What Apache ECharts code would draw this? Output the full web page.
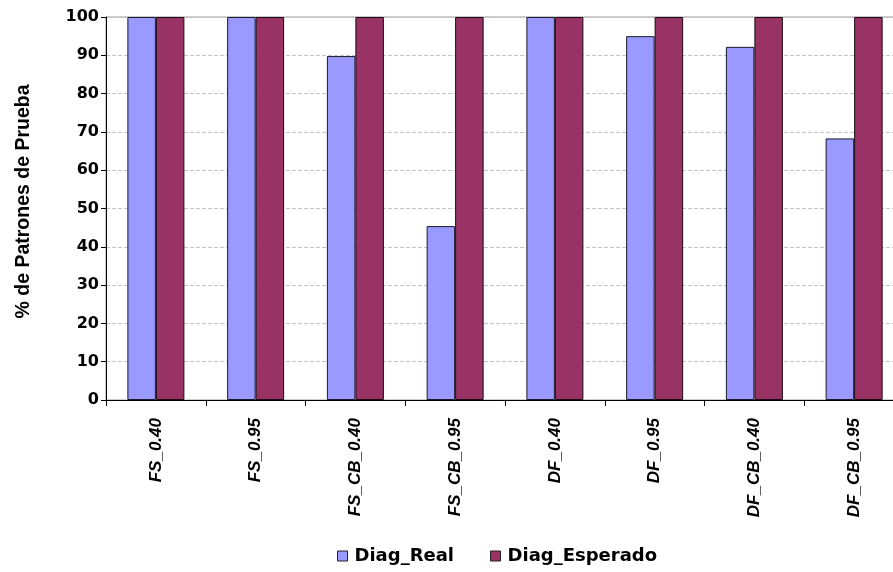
<!DOCTYPE html>
<html>
<head>
<meta charset="utf-8">
<script src="https://cdn.jsdelivr.net/npm/echarts@6/dist/echarts.min.js"></script>
<style>
  html, body { margin: 0; padding: 0; background: #fff; }
  #chart { width: 893px; height: 572px; }
</style>
</head>
<body>
<div id="chart"></div>
<script>
// Test configurations on the category axis
const categories = ['FS_0.40', 'FS_0.95', 'FS_CB_0.40', 'FS_CB_0.95', 'DF_0.40', 'DF_0.95', 'DF_CB_0.40', 'DF_CB_0.95'];
// Percentage of test patterns diagnosed
const diagReal = [100, 100, 89.8, 45.4, 100, 95.0, 92.2, 68.3];
const diagEsperado = [100, 100, 100, 100, 100, 100, 100, 100];
const seriesNames = ['Diag_Real', 'Diag_Esperado'];
const yTicks = { min: 0, max: 100, interval: 10 };

const font = 'Liberation Sans, Arial, sans-serif';
const wideFont = 'DejaVu Sans, Liberation Sans, sans-serif';
const chart = echarts.init(document.getElementById('chart'), null, { renderer: 'canvas' });

chart.setOption({
  animation: false,
  backgroundColor: '#ffffff',
  grid: {
    left: 106, top: 17, width: 798, height: 383,
    outerBoundsMode: 'none',
    show: true, borderColor: '#9a9a9a', borderWidth: 1, backgroundColor: 'transparent'
  },
  legend: {
    bottom: 2, left: 332,
    icon: 'rect', itemWidth: 10, itemHeight: 10, itemGap: 36,
    itemStyle: { borderColor: '#222', borderWidth: 1 },
    textStyle: { fontFamily: wideFont, fontWeight: 'bold', fontSize: 18, color: '#000', padding: [0, 0, 0, 2] },
    data: seriesNames
  },
  xAxis: {
    type: 'category',
    data: categories,
    axisLine: { lineStyle: { color: '#000', width: 1 } },
    axisTick: { show: true, length: 6, lineStyle: { color: '#000' } },
    axisLabel: {
      rotate: 90, margin: 18, interval: 0,
      fontFamily: font, fontWeight: 'bold', fontStyle: 'italic', fontSize: 17, color: '#000'
    },
    splitLine: { show: false }
  },
  yAxis: {
    type: 'value',
    min: yTicks.min, max: yTicks.max, interval: yTicks.interval,
    name: '% de Patrones de Prueba',
    nameLocation: 'middle', nameGap: 72, nameRotate: 90,
    nameTextStyle: { fontFamily: font, fontWeight: 'bold', fontSize: 19.5, color: '#000', padding: [0, 0, 0, 14] },
    axisLine: { show: true, lineStyle: { color: '#000', width: 1 } },
    axisTick: { show: true, length: 5, lineStyle: { color: '#000' } },
    axisLabel: { margin: 7, fontFamily: wideFont, fontWeight: 'bold', fontSize: 16, color: '#000' },
    splitLine: { show: true, lineStyle: { color: '#c4c4c4', type: [4, 2], width: 1 } }
  },
  series: [
    {
      name: seriesNames[0], type: 'bar', data: diagReal,
      barWidth: 28.5, barGap: '0%',
      itemStyle: { color: '#9999ff', borderColor: '#1a1a2a', borderWidth: 1 }
    },
    {
      name: seriesNames[1], type: 'bar', data: diagEsperado,
      barWidth: 28.5, barGap: '0%',
      itemStyle: { color: '#993366', borderColor: '#1a0a10', borderWidth: 1 }
    }
  ]
});
</script>
</body>
</html>
